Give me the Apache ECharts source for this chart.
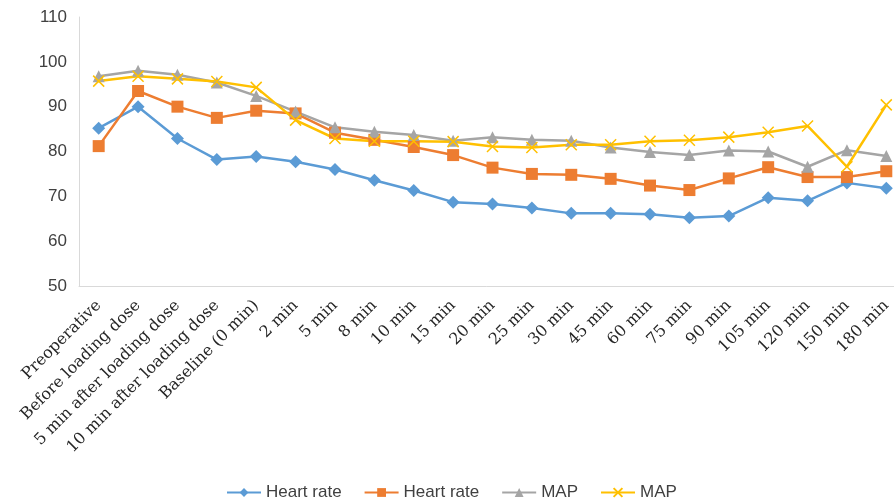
<!DOCTYPE html>
<html>
<head>
<meta charset="utf-8">
<script src="https://cdn.jsdelivr.net/npm/echarts@6/dist/echarts.min.js"></script>
<style>
  html, body { margin: 0; padding: 0; background: #fff; }
  #chart { width: 894px; height: 500px; }
</style>
</head>
<body>
<div id="chart"></div>
<script>
const categories = ['Preoperative', 'Before loading dose', '5 min after loading dose', '10 min after loading dose',
    'Baseline (0 min)', '2 min', '5 min', '8 min', '10 min', '15 min', '20 min', '25 min', '30 min',
    '45 min', '60 min', '75 min', '90 min', '105 min', '120 min', '150 min', '180 min'];

const heartRateA = [85.2, 90.0, 82.9, 78.2, 78.9, 77.7, 76.0, 73.6, 71.3, 68.7, 68.3, 67.4, 66.2,
    66.2, 66.0, 65.2, 65.6, 69.7, 69.0, 73.0, 71.8];
const heartRateB = [81.2, 93.5, 90.0, 87.5, 89.1, 88.5, 84.2, 82.6, 81.0, 79.2, 76.4, 75.0, 74.8,
    73.9, 72.4, 71.4, 74.0, 76.5, 74.3, 74.3, 75.6];
const mapA = [96.8, 98.0, 97.1, 95.4, 92.4, 88.9, 85.4, 84.4, 83.7, 82.4, 83.2, 82.6, 82.4,
    80.9, 79.9, 79.2, 80.2, 80.0, 76.6, 80.3, 79.0];
const mapB = [95.7, 96.8, 96.2, 95.6, 94.3, 87.0, 82.9, 82.3, 82.3, 82.2, 81.1, 80.9, 81.5,
    81.5, 82.3, 82.5, 83.2, 84.3, 85.7, 76.6, 90.4];

const yTicks = { min: 50, max: 110, step: 10 };

var chart = echarts.init(document.getElementById('chart'));

function makeSeries(name, data, color, symbol, size, extra) {
    return Object.assign({
        name: name,
        type: 'line',
        data: data,
        symbol: symbol,
        symbolSize: size,
        showAllSymbol: true,
        lineStyle: { color: color, width: 2.5 },
        itemStyle: { color: color },
        emphasis: { disabled: true }
    }, extra || {});
}

var option = {
    animation: false,
    backgroundColor: '#ffffff',
    // plot runs past the right edge in the original, so don't let echarts shrink it
    grid: { left: 79, width: 827, top: 17, bottom: 214, outerBoundsMode: 'none' },
    legend: {
        top: 479,
        left: 221,
        itemWidth: 34,
        itemHeight: 11,
        itemGap: 22,
        // the two pairs share a name in the original; trailing spaces keep them apart
        formatter: function (name) { return name.trim(); },
        textStyle: { fontFamily: 'Liberation Sans', fontSize: 17, color: '#404040' },
        data: ['Heart rate', 'Heart rate ', 'MAP', 'MAP ']
    },
    xAxis: {
        type: 'category',
        data: categories,
        boundaryGap: true,
        axisLine: { lineStyle: { color: '#d9d9d9', width: 1 } },
        axisTick: { show: false },
        axisLabel: {
            interval: 0,
            rotate: 45,
            margin: 17,
            fontFamily: 'DejaVu Serif',
            fontSize: 16,
            color: '#262626'
        }
    },
    yAxis: {
        type: 'value',
        min: yTicks.min,
        max: yTicks.max,
        interval: yTicks.step,
        axisLine: { show: true, lineStyle: { color: '#d9d9d9', width: 1 } },
        axisTick: { show: false },
        splitLine: { show: false },
        axisLabel: {
            margin: 12,
            fontFamily: 'Liberation Sans',
            fontSize: 17,
            color: '#404040'
        }
    },
    series: [
        makeSeries('Heart rate', heartRateA, '#5B9BD5', 'diamond', 13),
        makeSeries('Heart rate ', heartRateB, '#ED7D31', 'rect', 12),
        makeSeries('MAP', mapA, '#A5A5A5', 'triangle', 12),
        makeSeries('MAP ', mapB, '#FFC000', 'path://M0,0L10,10M10,0L0,10', 11, {
            itemStyle: { color: 'none', borderColor: '#FFC000', borderWidth: 1.5 }
        })
    ]
};

chart.setOption(option);
</script>
</body>
</html>
